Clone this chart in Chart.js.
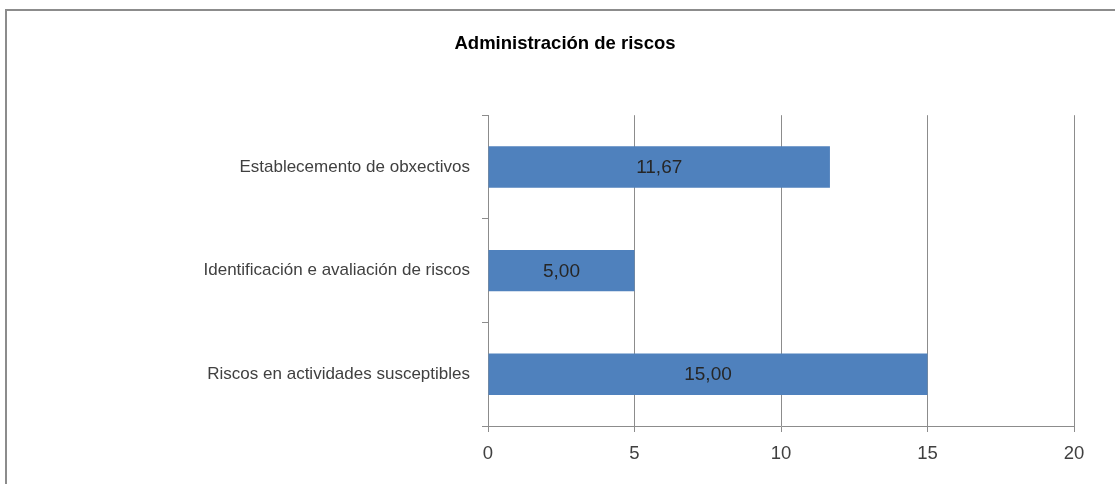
<!DOCTYPE html>
<html>
<head>
<meta charset="utf-8">
<script src="https://cdn.jsdelivr.net/npm/chart.js@4.4.1/dist/chart.umd.min.js"></script>
<style>
  html, body { margin:0; padding:0; background:#fff; overflow:hidden; }
  #frame { position:absolute; left:5px; top:9px; width:1300px; height:700px; border:2px solid #8c8c8c; }
  #wrap { position:absolute; left:0; top:0; width:1115px; height:484px; }
</style>
</head>
<body>
<div id="frame"></div>
<div id="wrap"><canvas id="chart-riscos"></canvas></div>
<script>
// Datos
const CATEGORIAS = ['Establecemento de obxectivos', 'Identificación e avaliación de riscos', 'Riscos en actividades susceptibles'];
const VALORES    = [11.67, 5.00, 15.00];
const EIXO_X     = { min:0, max:20, paso:5 };

const AZUL   = '#4f81bd';
const GRIS   = '#8c8c8c';
const TEXTO  = '#404040';
const FONTE  = '"Liberation Sans Narrow", "Liberation Sans", Arial, sans-serif';

// Etiquetas de valor no centro de cada barra
const etiquetasValor = {
  id: 'etiquetasValor',
  afterDatasetsDraw(chart) {
    const { ctx } = chart;
    const meta = chart.getDatasetMeta(0);
    ctx.save();
    ctx.font = '19px ' + FONTE;
    ctx.fillStyle = '#262626';
    ctx.textAlign = 'center';
    ctx.textBaseline = 'middle';
    meta.data.forEach((bar, i) => {
      const v = chart.data.datasets[0].data[i];
      const cx = (bar.x + bar.base) / 2;
      ctx.fillText(v.toFixed(2).replace('.', ','), cx, bar.y + 1);
    });
    ctx.restore();
  }
};

new Chart(document.getElementById('chart-riscos'), {
  type: 'bar',
  data: {
    labels: CATEGORIAS,
    datasets: [{ data: VALORES, backgroundColor: AZUL, borderWidth: 0,
      categoryPercentage: 1, barPercentage: 0.4 }]
  },
  options: {
    indexAxis: 'y',
    responsive: true, maintainAspectRatio: false, animation: false,
    layout: { padding: { left: 56, right: 41, top: 0, bottom: 0 } },
    plugins: {
      legend: { display: false },
      tooltip: { enabled: false },
      title: { display: true, text: 'Administración de riscos', color: '#000',
        font: { family: FONTE, size: 18.5, weight: 'bold', lineHeight: 1.2 },
        padding: { top: 33, bottom: 60 } }
    },
    scales: {
      x: {
        min: EIXO_X.min, max: EIXO_X.max,
        ticks: { stepSize: EIXO_X.paso, color: TEXTO, padding: 11,
          font: { family: FONTE, size: 18.5 } },
        grid: { color: GRIS, lineWidth: 1, tickLength: 6 },
        border: { display: true, color: GRIS, width: 1 },
        afterFit: s => { s.height = 58; }
      },
      y: {
        ticks: { color: TEXTO, padding: 12, font: { family: FONTE, size: 17 } },
        grid: { drawOnChartArea: false, color: GRIS, tickLength: 6, offset: true },
        border: { display: true, color: GRIS, width: 1 },
        afterFit: s => { s.width = 432; }
      }
    }
  },
  plugins: [etiquetasValor]
});
</script>
</body>
</html>
